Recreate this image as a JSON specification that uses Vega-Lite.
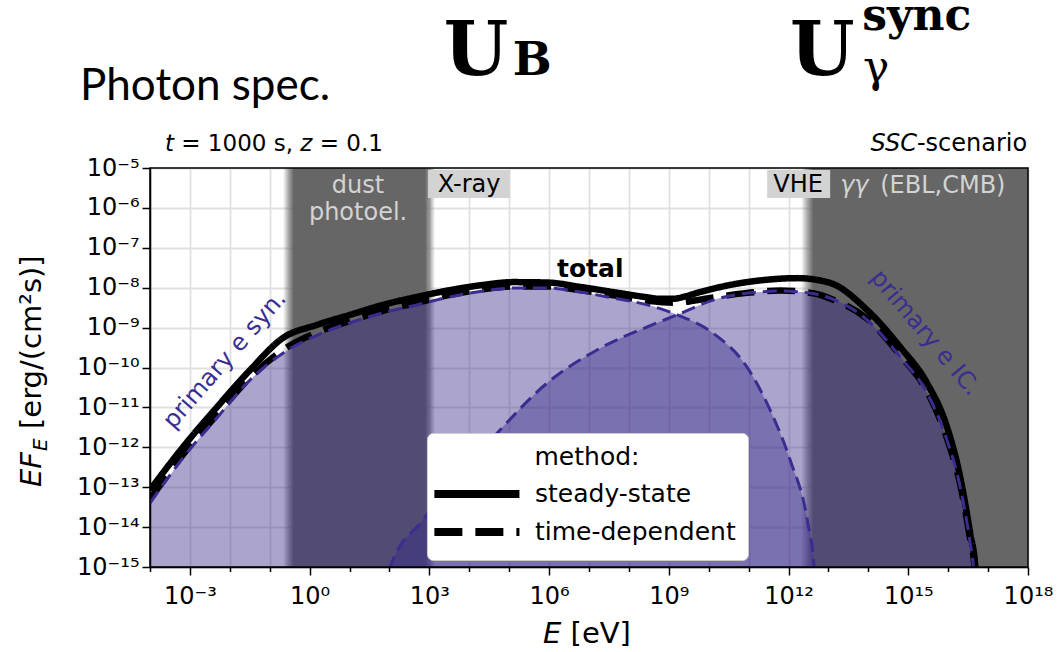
{
  "$schema": "https://vega.github.io/schema/vega-lite/v6.json",
  "width": 878,
  "height": 399,
  "autosize": {"type": "none"},
  "padding": {"left": 150, "top": 168, "right": 31, "bottom": 85},
  "background": "white",
  "config": {"view": {"stroke": null}, "font": "DejaVu Sans"},
  "datasets": {
    "components": [
      {"component": "primary e syn.", "logE": -4.0, "logF": -13.4},
      {"component": "primary e syn.", "logE": -3.17, "logF": -12.26},
      {"component": "primary e syn.", "logE": -2.32, "logF": -11.26},
      {"component": "primary e syn.", "logE": -1.49, "logF": -10.31},
      {"component": "primary e syn.", "logE": -0.67, "logF": -9.64},
      {"component": "primary e syn.", "logE": 0.19, "logF": -9.19},
      {"component": "primary e syn.", "logE": 1.01, "logF": -8.88},
      {"component": "primary e syn.", "logE": 1.84, "logF": -8.63},
      {"component": "primary e syn.", "logE": 2.69, "logF": -8.43},
      {"component": "primary e syn.", "logE": 3.52, "logF": -8.23},
      {"component": "primary e syn.", "logE": 4.35, "logF": -8.08},
      {"component": "primary e syn.", "logE": 5.10, "logF": -8.01},
      {"component": "primary e syn.", "logE": 5.95, "logF": -8.01},
      {"component": "primary e syn.", "logE": 6.78, "logF": -8.11},
      {"component": "primary e syn.", "logE": 7.61, "logF": -8.26},
      {"component": "primary e syn.", "logE": 8.46, "logF": -8.43},
      {"component": "primary e syn.", "logE": 9.21, "logF": -8.68},
      {"component": "primary e syn.", "logE": 10.11, "logF": -9.14},
      {"component": "primary e syn.", "logE": 10.96, "logF": -9.99},
      {"component": "primary e syn.", "logE": 11.54, "logF": -11.07},
      {"component": "primary e syn.", "logE": 12.04, "logF": -12.32},
      {"component": "primary e syn.", "logE": 12.47, "logF": -13.82},
      {"component": "primary e syn.", "logE": 12.64, "logF": -15.0},
      {"component": "primary e syn.", "logE": 12.68, "logF": -15.6},
      {"component": "primary e IC.", "logE": 1.97, "logF": -15.6},
      {"component": "primary e IC.", "logE": 2.02, "logF": -15.0},
      {"component": "primary e IC.", "logE": 2.84, "logF": -13.82},
      {"component": "primary e IC.", "logE": 3.75, "logF": -12.68},
      {"component": "primary e IC.", "logE": 4.70, "logF": -11.64},
      {"component": "primary e IC.", "logE": 5.95, "logF": -10.39},
      {"component": "primary e IC.", "logE": 7.20, "logF": -9.56},
      {"component": "primary e IC.", "logE": 8.46, "logF": -8.98},
      {"component": "primary e IC.", "logE": 9.21, "logF": -8.68},
      {"component": "primary e IC.", "logE": 10.11, "logF": -8.31},
      {"component": "primary e IC.", "logE": 11.36, "logF": -8.10},
      {"component": "primary e IC.", "logE": 11.8, "logF": -8.08},
      {"component": "primary e IC.", "logE": 12.5, "logF": -8.13},
      {"component": "primary e IC.", "logE": 13.04, "logF": -8.26},
      {"component": "primary e IC.", "logE": 13.97, "logF": -8.81},
      {"component": "primary e IC.", "logE": 14.80, "logF": -9.74},
      {"component": "primary e IC.", "logE": 15.47, "logF": -10.64},
      {"component": "primary e IC.", "logE": 15.97, "logF": -11.82},
      {"component": "primary e IC.", "logE": 16.30, "logF": -12.99},
      {"component": "primary e IC.", "logE": 16.55, "logF": -14.40},
      {"component": "primary e IC.", "logE": 16.63, "logF": -15.0},
      {"component": "primary e IC.", "logE": 16.66, "logF": -15.6}
    ],
    "totals": [
      {"method": "steady-state", "logE": -4.0, "logF": -13.07},
      {"method": "steady-state", "logE": -3.17, "logF": -11.99},
      {"method": "steady-state", "logE": -2.32, "logF": -10.99},
      {"method": "steady-state", "logE": -1.49, "logF": -10.06},
      {"method": "steady-state", "logE": -0.67, "logF": -9.26},
      {"method": "steady-state", "logE": 0.19, "logF": -8.93},
      {"method": "steady-state", "logE": 1.01, "logF": -8.68},
      {"method": "steady-state", "logE": 1.84, "logF": -8.43},
      {"method": "steady-state", "logE": 2.69, "logF": -8.23},
      {"method": "steady-state", "logE": 3.52, "logF": -8.06},
      {"method": "steady-state", "logE": 4.35, "logF": -7.93},
      {"method": "steady-state", "logE": 5.10, "logF": -7.86},
      {"method": "steady-state", "logE": 5.95, "logF": -7.87},
      {"method": "steady-state", "logE": 6.78, "logF": -7.98},
      {"method": "steady-state", "logE": 7.61, "logF": -8.11},
      {"method": "steady-state", "logE": 8.46, "logF": -8.24},
      {"method": "steady-state", "logE": 8.8, "logF": -8.28},
      {"method": "steady-state", "logE": 9.1, "logF": -8.28},
      {"method": "steady-state", "logE": 9.4, "logF": -8.22},
      {"method": "steady-state", "logE": 9.71, "logF": -8.13},
      {"method": "steady-state", "logE": 10.54, "logF": -7.93},
      {"method": "steady-state", "logE": 11.36, "logF": -7.81},
      {"method": "steady-state", "logE": 12.22, "logF": -7.76},
      {"method": "steady-state", "logE": 13.04, "logF": -7.88},
      {"method": "steady-state", "logE": 13.97, "logF": -8.56},
      {"method": "steady-state", "logE": 14.80, "logF": -9.49},
      {"method": "steady-state", "logE": 15.47, "logF": -10.39},
      {"method": "steady-state", "logE": 15.97, "logF": -11.49},
      {"method": "steady-state", "logE": 16.30, "logF": -12.74},
      {"method": "steady-state", "logE": 16.55, "logF": -14.15},
      {"method": "steady-state", "logE": 16.68, "logF": -15.0},
      {"method": "steady-state", "logE": 16.72, "logF": -15.6},
      {"method": "time-dependent", "logE": -4.0, "logF": -13.3},
      {"method": "time-dependent", "logE": -3.17, "logF": -12.18},
      {"method": "time-dependent", "logE": -2.32, "logF": -11.18},
      {"method": "time-dependent", "logE": -1.49, "logF": -10.25},
      {"method": "time-dependent", "logE": -0.67, "logF": -9.56},
      {"method": "time-dependent", "logE": 0.19, "logF": -9.12},
      {"method": "time-dependent", "logE": 1.01, "logF": -8.83},
      {"method": "time-dependent", "logE": 1.84, "logF": -8.58},
      {"method": "time-dependent", "logE": 2.69, "logF": -8.38},
      {"method": "time-dependent", "logE": 3.52, "logF": -8.18},
      {"method": "time-dependent", "logE": 4.35, "logF": -8.04},
      {"method": "time-dependent", "logE": 5.10, "logF": -7.97},
      {"method": "time-dependent", "logE": 5.95, "logF": -7.97},
      {"method": "time-dependent", "logE": 6.78, "logF": -8.06},
      {"method": "time-dependent", "logE": 7.61, "logF": -8.19},
      {"method": "time-dependent", "logE": 8.46, "logF": -8.33},
      {"method": "time-dependent", "logE": 9.11, "logF": -8.38},
      {"method": "time-dependent", "logE": 9.96, "logF": -8.27},
      {"method": "time-dependent", "logE": 10.96, "logF": -8.13},
      {"method": "time-dependent", "logE": 11.79, "logF": -8.07},
      {"method": "time-dependent", "logE": 12.62, "logF": -8.14},
      {"method": "time-dependent", "logE": 13.12, "logF": -8.30},
      {"method": "time-dependent", "logE": 13.97, "logF": -8.78},
      {"method": "time-dependent", "logE": 14.80, "logF": -9.70},
      {"method": "time-dependent", "logE": 15.47, "logF": -10.60},
      {"method": "time-dependent", "logE": 15.97, "logF": -11.78},
      {"method": "time-dependent", "logE": 16.30, "logF": -12.93},
      {"method": "time-dependent", "logE": 16.55, "logF": -14.30},
      {"method": "time-dependent", "logE": 16.66, "logF": -15.0},
      {"method": "time-dependent", "logE": 16.70, "logF": -15.6}
    ]
  },
  "encoding": {
    "x": {
      "field": "logE", "type": "quantitative",
      "scale": {"domain": [-4, 18], "nice": false, "zero": false},
      "axis": {
        "title": null,
        "values": [-4, -3, -2, -1, 0, 1, 2, 3, 4, 5, 6, 7, 8, 9, 10, 11, 12, 13, 14, 15, 16, 17, 18],
        "labelExpr": "datum.value % 3 == 0 ? '10' + replace(replace(replace(replace(replace(replace(replace(replace(replace(replace(replace(toString(datum.value),'-','⁻'),regexp('0','g'),'⁰'),regexp('1','g'),'¹'),regexp('2','g'),'²'),regexp('3','g'),'³'),regexp('4','g'),'⁴'),regexp('5','g'),'⁵'),regexp('6','g'),'⁶'),regexp('7','g'),'⁷'),regexp('8','g'),'⁸'),regexp('9','g'),'⁹') : ''",
        "tickSize": {"condition": {"test": "datum.value % 3 == 0", "value": 8}, "value": 4.5},
        "tickColor": "black", "tickWidth": 1.5,
        "domainColor": "black", "domainWidth": 1.5,
        "grid": true, "gridColor": "#e0e0e0", "gridWidth": 1.8,
        "labelFont": "DejaVu Sans", "labelFontSize": 24, "labelColor": "black",
        "labelFlush": false, "labelOverlap": false, "labelBound": false, "labelPadding": 9
      }
    },
    "y": {
      "field": "logF", "type": "quantitative", "stack": null,
      "scale": {"domain": [-15, -5], "nice": false, "zero": false},
      "axis": {
        "title": null,
        "values": [-15, -14, -13, -12, -11, -10, -9, -8, -7, -6, -5],
        "labelExpr": "'10' + replace(replace(replace(replace(replace(replace(replace(replace(replace(replace(replace(toString(datum.value),'-','⁻'),regexp('0','g'),'⁰'),regexp('1','g'),'¹'),regexp('2','g'),'²'),regexp('3','g'),'³'),regexp('4','g'),'⁴'),regexp('5','g'),'⁵'),regexp('6','g'),'⁶'),regexp('7','g'),'⁷'),regexp('8','g'),'⁸'),regexp('9','g'),'⁹')",
        "tickSize": 8, "tickColor": "black", "tickWidth": 1.5,
        "domainColor": "black", "domainWidth": 1.5,
        "grid": true, "gridColor": "#e0e0e0", "gridWidth": 1.8,
        "labelFont": "DejaVu Sans", "labelFontSize": 24, "labelColor": "black",
        "labelFlush": false, "labelOverlap": false, "labelBound": false, "labelPadding": 3
      }
    }
  },
  "layer": [
    {
      "data": {"values": [{"band": "dust photoel.", "logE": -0.667, "logE2": 3.143, "logF": -5, "logF2": -15}]},
      "mark": {"type": "rect", "clip": true, "fill": {"gradient": "linear", "x1": 0, "y1": 0, "x2": 1, "y2": 0, "stops": [
        {"offset": 0, "color": "rgba(102,102,102,0)"},
        {"offset": 0.035, "color": "rgba(102,102,102,0.55)"},
        {"offset": 0.07, "color": "#666666"},
        {"offset": 0.935, "color": "#666666"},
        {"offset": 0.968, "color": "rgba(102,102,102,0.55)"},
        {"offset": 1, "color": "rgba(102,102,102,0)"}]}},
      "encoding": {"x2": {"field": "logE2"}, "y2": {"field": "logF2"}}
    },
    {
      "data": {"values": [{"band": "γγ (EBL,CMB)", "logE": 12.316, "logE2": 18, "logF": -5, "logF2": -15}]},
      "mark": {"type": "rect", "clip": true, "fill": {"gradient": "linear", "x1": 0, "y1": 0, "x2": 1, "y2": 0, "stops": [
        {"offset": 0, "color": "rgba(102,102,102,0)"},
        {"offset": 0.027, "color": "rgba(102,102,102,0.55)"},
        {"offset": 0.054, "color": "#666666"},
        {"offset": 1, "color": "#666666"}]}},
      "encoding": {"x2": {"field": "logE2"}, "y2": {"field": "logF2"}}
    },
    {
      "data": {"name": "components"},
      "mark": {"type": "area", "color": "#372888", "opacity": 0.42, "interpolate": "monotone", "clip": true},
      "encoding": {"detail": {"field": "component"}, "y2": {"datum": -15}}
    },
    {
      "data": {"name": "totals"},
      "mark": {"type": "line", "color": "black", "strokeWidth": 6.5, "interpolate": "monotone", "clip": true},
      "encoding": {
        "strokeDash": {
          "field": "method", "type": "nominal",
          "scale": {"domain": ["steady-state", "time-dependent"], "range": [[1, 0], [28, 13]]},
          "legend": {
            "title": "method:", "orient": "none", "legendX": 277, "legendY": 265,
            "direction": "vertical",
            "symbolType": "M-1.85,0H6.17", "symbolSize": 450, "symbolStrokeWidth": 8,
            "symbolStrokeColor": "black", "symbolFillColor": "transparent",
            "labelOffset": 66, "labelLimit": 400, "labelFont": "DejaVu Sans", "labelFontSize": 25, "labelColor": "black",
            "titleFont": "DejaVu Sans", "titleFontSize": 25, "titleFontWeight": "normal", "titleColor": "black",
            "titleAnchor": "middle", "titlePadding": 9, "rowPadding": 6, "padding": 12,
            "fillColor": "white", "strokeColor": "#cccccc", "cornerRadius": 6, "zindex": 2
          }
        }
      }
    },
    {
      "data": {"name": "components"},
      "mark": {"type": "line", "color": "#3a2d91", "strokeWidth": 3, "strokeDash": [14, 7], "interpolate": "monotone", "clip": true},
      "encoding": {"detail": {"field": "component"}}
    },
    {
      "data": {"values": [{"label": "X-ray", "logE": 2.967, "logE2": 5.023, "logF": -5.05, "logF2": -5.752}, {"label": "VHE", "logE": 11.464, "logE2": 13.043, "logF": -5.05, "logF2": -5.752}]},
      "mark": {"type": "rect", "fill": "#d3d3d3"},
      "encoding": {"x2": {"field": "logE2"}, "y2": {"field": "logF2"}}
    },
    {
      "data": {"values": [{"text": "X-ray", "logE": 3.995, "logF": -5.602}, {"text": "VHE", "logE": 12.24, "logF": -5.602}]},
      "mark": {"type": "text", "font": "DejaVu Sans", "fontSize": 24, "color": "black", "align": "center", "baseline": "alphabetic"},
      "encoding": {"text": {"field": "text"}}
    },
    {
      "data": {"values": [{"text": "dust", "logE": 1.213, "logF": -5.627}, {"text": "photoel.", "logE": 1.213, "logF": -6.303}]},
      "mark": {"type": "text", "font": "DejaVu Sans", "fontSize": 24, "color": "#d3d3d3", "align": "center", "baseline": "alphabetic"},
      "encoding": {"text": {"field": "text"}}
    },
    {
      "data": {"values": [{"text": "(EBL,CMB)", "logE": 14.296, "logF": -5.627}]},
      "mark": {"type": "text", "font": "DejaVu Sans", "fontSize": 24, "color": "#d3d3d3", "align": "left", "baseline": "alphabetic"},
      "encoding": {"text": {"field": "text"}}
    },
    {
      "data": {"values": [{"text": "γγ", "logE": 13.293, "logF": -5.627}]},
      "mark": {"type": "text", "font": "DejaVu Sans", "fontSize": 24, "fontStyle": "italic", "color": "#d3d3d3", "align": "left", "baseline": "alphabetic"},
      "encoding": {"text": {"field": "text"}}
    },
    {
      "data": {"values": [{"text": "total", "logE": 7.03, "logF": -7.732}]},
      "mark": {"type": "text", "font": "DejaVu Sans", "fontSize": 25, "fontWeight": "bold", "color": "black", "align": "center", "baseline": "alphabetic"},
      "encoding": {"text": {"field": "text"}}
    },
    {
      "data": {"values": [{"text": "primary e syn.", "logE": -2.12, "logF": -9.812}]},
      "mark": {"type": "text", "font": "DejaVu Sans", "fontSize": 24, "color": "#3a2d91", "align": "center", "baseline": "middle", "angle": -49},
      "encoding": {"text": {"field": "text"}}
    },
    {
      "data": {"values": [{"text": "primary e IC.", "logE": 15.42, "logF": -9.135}]},
      "mark": {"type": "text", "font": "DejaVu Sans", "fontSize": 24, "color": "#3a2d91", "align": "center", "baseline": "middle", "angle": 50},
      "encoding": {"text": {"field": "text"}}
    },
    {
      "data": {"values": [{"text": "t", "logE": -3.624, "logF": -4.574}, {"text": "z", "logE": -0.233, "logF": -4.574}]},
      "mark": {"type": "text", "font": "DejaVu Sans", "fontSize": 23, "fontStyle": "italic", "color": "black", "align": "left", "baseline": "alphabetic"},
      "encoding": {"text": {"field": "text"}}
    },
    {
      "data": {"values": [{"text": "= 1000 s,", "logE": -3.216, "logF": -4.574}, {"text": "= 0.1", "logE": 0.253, "logF": -4.574}]},
      "mark": {"type": "text", "font": "DejaVu Sans", "fontSize": 23, "color": "black", "align": "left", "baseline": "alphabetic"},
      "encoding": {"text": {"field": "text"}}
    },
    {
      "data": {"values": [{"text": "SSC", "logE": 15.216, "logF": -4.574}]},
      "mark": {"type": "text", "font": "DejaVu Sans", "fontSize": 24, "fontStyle": "italic", "color": "black", "align": "right", "baseline": "alphabetic"},
      "encoding": {"text": {"field": "text"}}
    },
    {
      "data": {"values": [{"text": "-scenario", "logE": 17.98, "logF": -4.574}]},
      "mark": {"type": "text", "font": "DejaVu Sans", "fontSize": 24, "color": "black", "align": "right", "baseline": "alphabetic"},
      "encoding": {"text": {"field": "text"}}
    },
    {
      "data": {"values": [{"text": "Photon spec.", "logE": -5.754, "logF": -3.296}]},
      "mark": {"type": "text", "font": "Lato", "fontSize": 44, "color": "black", "align": "left", "baseline": "alphabetic"},
      "encoding": {"text": {"field": "text"}}
    },
    {
      "data": {"values": [{"text": "U", "logE": 4.170, "logF": -2.669}, {"text": "U", "logE": 12.842, "logF": -2.669}]},
      "mark": {"type": "text", "font": "DejaVu Serif", "fontSize": 74, "fontWeight": "bold", "color": "black", "align": "center", "baseline": "alphabetic"},
      "encoding": {"text": {"field": "text"}}
    },
    {
      "data": {"values": [{"text": "B", "logE": 5.574, "logF": -2.669}]},
      "mark": {"type": "text", "font": "DejaVu Serif", "fontSize": 46, "fontWeight": "bold", "color": "black", "align": "center", "baseline": "alphabetic"},
      "encoding": {"text": {"field": "text"}}
    },
    {
      "data": {"values": [{"text": "sync", "logE": 13.845, "logF": -1.541}]},
      "mark": {"type": "text", "font": "DejaVu Serif", "fontSize": 44, "fontWeight": "bold", "color": "black", "align": "left", "baseline": "alphabetic"},
      "encoding": {"text": {"field": "text"}}
    },
    {
      "data": {"values": [{"text": "γ", "logE": 14.195, "logF": -2.845}]},
      "mark": {"type": "text", "font": "DejaVu Serif", "fontSize": 44, "color": "black", "align": "center", "baseline": "alphabetic"},
      "encoding": {"text": {"field": "text"}}
    },
    {
      "data": {"values": [{"text": "EF", "logE": -6.732, "logF": -12.995}]},
      "mark": {"type": "text", "font": "DejaVu Sans", "fontSize": 29, "fontStyle": "italic", "color": "black", "align": "left", "baseline": "alphabetic", "angle": -90},
      "encoding": {"text": {"field": "text"}}
    },
    {
      "data": {"values": [{"text": "E", "logE": -6.581, "logF": -12.093}]},
      "mark": {"type": "text", "font": "DejaVu Sans", "fontSize": 20, "fontStyle": "italic", "color": "black", "align": "left", "baseline": "alphabetic", "angle": -90},
      "encoding": {"text": {"field": "text"}}
    },
    {
      "data": {"values": [{"text": "[erg/(cm²s)]", "logE": -6.732, "logF": -11.541}]},
      "mark": {"type": "text", "font": "DejaVu Sans", "fontSize": 29, "color": "black", "align": "left", "baseline": "alphabetic", "angle": -90},
      "encoding": {"text": {"field": "text"}}
    },
    {
      "data": {"values": [{"text": "E", "logE": 5.850, "logF": -16.905}]},
      "mark": {"type": "text", "font": "DejaVu Sans", "fontSize": 29, "fontStyle": "italic", "color": "black", "align": "left", "baseline": "alphabetic"},
      "encoding": {"text": {"field": "text"}}
    },
    {
      "data": {"values": [{"text": "[eV]", "logE": 6.539, "logF": -16.905}]},
      "mark": {"type": "text", "font": "DejaVu Sans", "fontSize": 29, "color": "black", "align": "left", "baseline": "alphabetic"},
      "encoding": {"text": {"field": "text"}}
    },
    {
      "data": {"values": [{"frame": "plot area", "logE": -4, "logE2": 18, "logF": -15, "logF2": -5}]},
      "mark": {"type": "rect", "fill": null, "fillOpacity": 0, "stroke": "black", "strokeWidth": 1.5},
      "encoding": {"x2": {"field": "logE2"}, "y2": {"field": "logF2"}}
    }
  ]
}
